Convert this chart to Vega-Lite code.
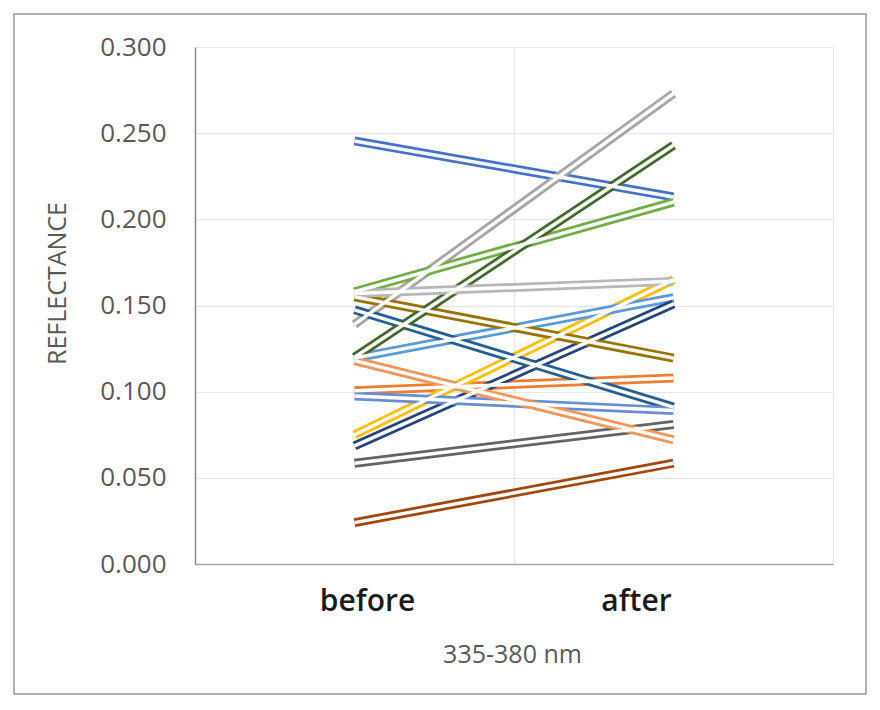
{
  "$schema": "https://vega.github.io/schema/vega-lite/v6.json",
  "width": 852,
  "height": 680,
  "autosize": "none",
  "padding": {"left": 14, "top": 14, "right": 14, "bottom": 16},
  "background": "white",
  "config": {
    "view": {"stroke": "#9a9a9a", "strokeWidth": 1.5},
    "font": "Open Sans"
  },
  "data": {
    "values": [
      {"series": "S01", "stage": "before", "value": 0.2455},
      {"series": "S01", "stage": "after", "value": 0.213},
      {"series": "S02", "stage": "before", "value": 0.1005},
      {"series": "S02", "stage": "after", "value": 0.108},
      {"series": "S03", "stage": "before", "value": 0.139},
      {"series": "S03", "stage": "after", "value": 0.273},
      {"series": "S04", "stage": "before", "value": 0.075},
      {"series": "S04", "stage": "after", "value": 0.165},
      {"series": "S05", "stage": "before", "value": 0.1195},
      {"series": "S05", "stage": "after", "value": 0.1545},
      {"series": "S06", "stage": "before", "value": 0.158},
      {"series": "S06", "stage": "after", "value": 0.21},
      {"series": "S07", "stage": "before", "value": 0.0685},
      {"series": "S07", "stage": "after", "value": 0.151},
      {"series": "S08", "stage": "before", "value": 0.024},
      {"series": "S08", "stage": "after", "value": 0.0585},
      {"series": "S09", "stage": "before", "value": 0.0585},
      {"series": "S09", "stage": "after", "value": 0.081},
      {"series": "S10", "stage": "before", "value": 0.155},
      {"series": "S10", "stage": "after", "value": 0.1195},
      {"series": "S11", "stage": "before", "value": 0.1475},
      {"series": "S11", "stage": "after", "value": 0.091},
      {"series": "S12", "stage": "before", "value": 0.12},
      {"series": "S12", "stage": "after", "value": 0.243},
      {"series": "S13", "stage": "before", "value": 0.0975},
      {"series": "S13", "stage": "after", "value": 0.089},
      {"series": "S14", "stage": "before", "value": 0.118},
      {"series": "S14", "stage": "after", "value": 0.072},
      {"series": "S15", "stage": "before", "value": 0.157},
      {"series": "S15", "stage": "after", "value": 0.164}
    ]
  },
  "resolve": {"axis": {"x": "independent"}},
  "layer": [
    {
      "mark": {"type": "line", "strokeWidth": 9, "strokeCap": "butt"},
      "encoding": {
        "x": {
          "field": "stage",
          "type": "nominal",
          "sort": ["before", "after"],
          "scale": {"type": "band", "range": [181, 819], "paddingInner": 0, "paddingOuter": 0},
          "axis": {
            "orient": "bottom",
            "offset": -130,
            "title": "335-380 nm",
            "titleFont": "Open Sans",
            "titleFontSize": 25,
            "titleFontWeight": "normal",
            "titleColor": "#595959",
            "titleBaseline": "alphabetic",
            "titleAlign": "center",
            "titleX": 498,
            "titleY": 98,
            "labelAngle": 0,
            "labelFont": "Open Sans",
            "labelFontSize": 30,
            "labelFontWeight": 600,
            "labelColor": "#1a1a1a",
            "labelBaseline": "alphabetic",
            "labelPadding": 46,
            "labelOffset": {"condition": {"test": "datum.value === 'before'", "value": 13}, "value": -37},
            "ticks": false,
            "tickSize": 0,
            "grid": false,
            "domainColor": "#a6a6a6",
            "domainWidth": 1.5
          }
        },
        "y": {
          "field": "value",
          "type": "quantitative",
          "scale": {"domain": [0, 0.3], "range": [550, 33], "nice": false, "zero": true},
          "axis": {
            "orient": "left",
            "offset": -181,
            "values": [0, 0.05, 0.1, 0.15, 0.2, 0.25, 0.3],
            "format": ".3f",
            "title": "REFLECTANCE",
            "titleFont": "Open Sans",
            "titleFontSize": 25,
            "titleFontWeight": "normal",
            "titleColor": "#595959",
            "titleAngle": -90,
            "titleAlign": "center",
            "titleBaseline": "middle",
            "titleX": -138,
            "titleY": 269,
            "labelFont": "Open Sans",
            "labelFontSize": 26,
            "labelColor": "#595959",
            "labelPadding": 29,
            "ticks": false,
            "tickSize": 0,
            "grid": true,
            "gridColor": "#e6e6e6",
            "gridWidth": 1,
            "domainColor": "#8c8c8c",
            "domainWidth": 1.5
          }
        },
        "color": {
          "field": "series",
          "type": "nominal",
          "scale": {
            "domain": ["S01","S02","S03","S04","S05","S06","S07","S08","S09","S10","S11","S12","S13","S14","S15"],
            "range": ["#4472C4","#ED7D31","#A5A5A5","#FFC000","#5B9BD5","#70AD47","#264478","#9E480E","#636363","#997300","#255E91","#43682B","#698ED0","#F1975A","#B7B7B7"]
          },
          "legend": null
        }
      }
    },
    {
      "mark": {"type": "line", "strokeWidth": 3.5, "strokeCap": "butt", "color": "white"},
      "encoding": {
        "x": {
          "field": "stage",
          "type": "nominal",
          "sort": ["before", "after"],
          "axis": {
            "orient": "top",
            "title": null,
            "labels": false,
            "ticks": false,
            "domain": false,
            "grid": true,
            "tickBand": "extent",
            "gridColor": "#e6e6e6",
            "gridWidth": 1
          }
        },
        "y": {"field": "value", "type": "quantitative"},
        "detail": {"field": "series", "type": "nominal"}
      }
    }
  ]
}
